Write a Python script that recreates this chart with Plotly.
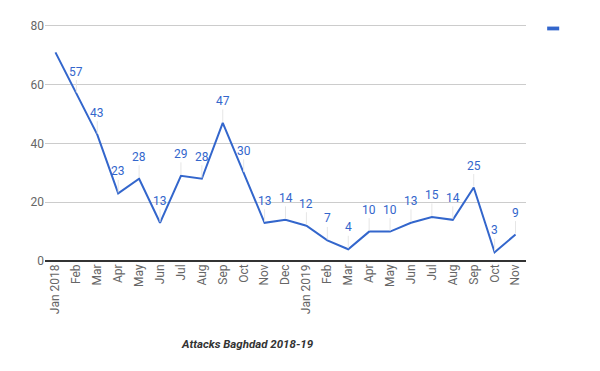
import plotly.graph_objects as go

months = ["Jan 2018", "Feb", "Mar", "Apr", "May", "Jun", "Jul", "Aug", "Sep", "Oct", "Nov", "Dec",
          "Jan 2019", "Feb", "Mar", "Apr", "May", "Jun", "Jul", "Aug", "Sep", "Oct", "Nov"]
attacks = [71, 57, 43, 23, 28, 13, 29, 28, 47, 30, 13, 14, 12, 7, 4, 10, 10, 13, 15, 14, 25, 3, 9]
show_label = [False] + [True] * (len(attacks) - 1)
y_ticks = [0, 20, 40, 60, 80]
title_text = "Attacks Baghdad 2018-19"

xs = list(range(len(months)))
BLUE = "#3366cc"

fig = go.Figure()
fig.add_trace(go.Scatter(x=xs, y=attacks, mode="lines",
                         line=dict(color=BLUE, width=2), showlegend=False, hoverinfo="skip"))

for x, v, s in zip(xs, attacks, show_label):
    if not s:
        continue
    fig.add_annotation(x=x, y=v, text=str(v), showarrow=True, arrowhead=0, arrowwidth=1,
                       arrowcolor="#e6e6e6", ax=0, ay=-22, standoff=1,
                       font=dict(family="Roboto", size=12, color=BLUE))

fig.add_annotation(xref="paper", yref="paper", x=0.42, y=-0.35, text="<b><i>" + title_text + "</i></b>",
                   showarrow=False, font=dict(family="Roboto", size=11.5, color="#333333"),
                   xanchor="center", yanchor="middle")

# legend swatch
fig.add_shape(type="rect", xref="paper", yref="paper", x0=1.044, x1=1.069, y0=0.985, y1=0.969,
              fillcolor=BLUE, line=dict(width=0))

fig.update_layout(
    width=600, height=371,
    margin=dict(l=37, r=82, t=15, b=118),
    plot_bgcolor="white", paper_bgcolor="white",
    font=dict(family="Roboto", color="#666666", size=12),
    xaxis=dict(range=[-0.5, len(months) - 0.5], tickvals=xs, ticktext=months, tickangle=-90,
               showgrid=False, zeroline=False, showline=False, ticks="",
               tickfont=dict(family="Roboto", size=12, color="#666666")),
    yaxis=dict(range=[0, 81], tickvals=y_ticks, showgrid=True, gridcolor="#cccccc", gridwidth=1,
               zeroline=True, zerolinecolor="#333333", zerolinewidth=1.5,
               ticks="", tickfont=dict(family="Roboto", size=12, color="#666666")),
)
fig.write_html("out.html")
